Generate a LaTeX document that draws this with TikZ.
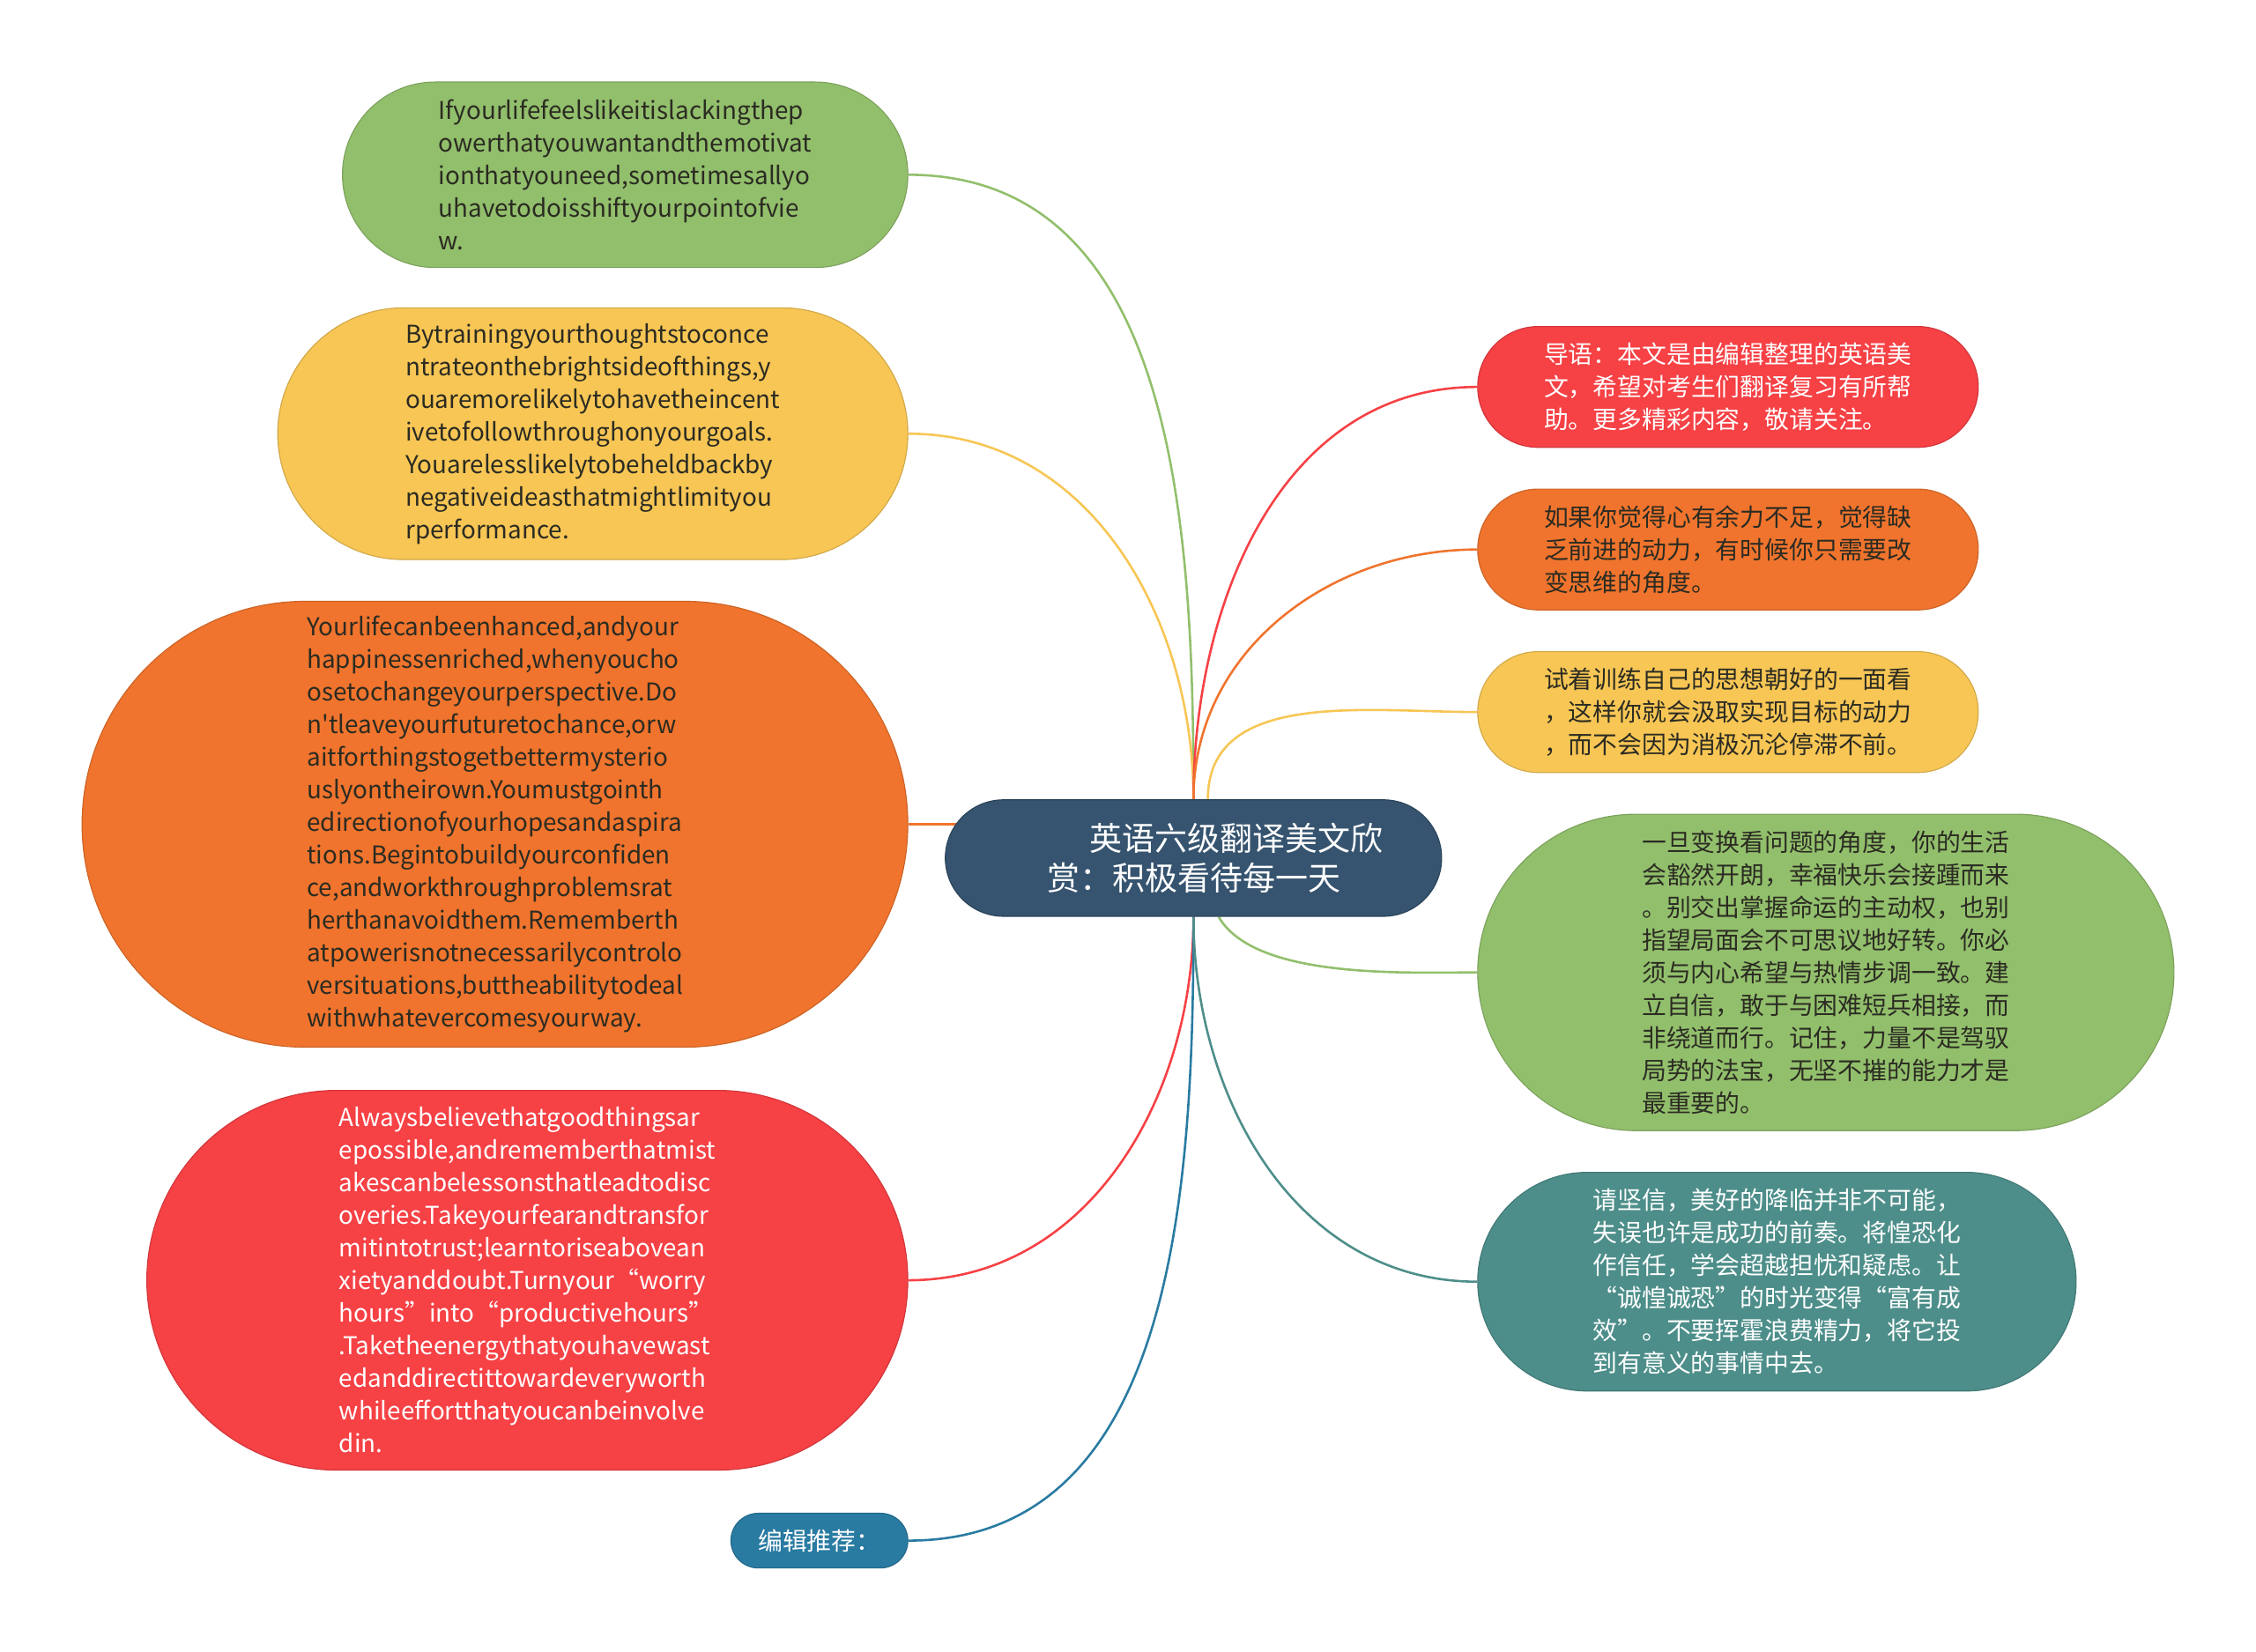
\documentclass[tikz,border=0pt]{standalone}
\usepackage{fontspec}
\setmainfont{Noto Sans CJK SC}
\newfontfamily\plainfont{Noto Sans CJK SC}
\usetikzlibrary{shapes.misc,backgrounds}

\definecolor{mapGreen}{HTML}{92BF6C}
\definecolor{mapYellow}{HTML}{F7C655}
\definecolor{mapOrange}{HTML}{F0742D}
\definecolor{mapRed}{HTML}{F64145}
\definecolor{mapTeal}{HTML}{4D8E8A}
\definecolor{mapBlue}{HTML}{297BA2}
\definecolor{mapNavy}{HTML}{36546F}
\definecolor{txtDark}{HTML}{2B2B22}

\begin{document}
\begin{tikzpicture}[
    x=0.02cm, y=-0.02cm,
    pill/.style={rounded rectangle, fill=#1, draw=#1!85!black, line width=0.4pt, inner sep=0pt, align=left, font=\fontsize{9.7}{12.9}\selectfont},
    title/.style={rounded rectangle, fill=mapNavy, draw=mapNavy!80!black, line width=0.4pt, inner sep=0pt, align=left, text=white, font=\fontsize{12.9}{15.8}\selectfont},
    link/.style={line width=0.9pt}
]
\useasboundingbox (0,0) rectangle (1568,1148);

% Central topic
\node[title, minimum width=6.9cm, minimum height=1.62cm] (root) at (829.5,596.5)
  {\hspace*{0.6cm}\hspace*{1.3em}英语六级翻译美文欣\\\hspace*{0.6cm}赏：积极看待每一天};

% Left branches - English text
\node[pill=mapGreen, text=txtDark, minimum width=7.86cm, minimum height=2.58cm] (engA) at (434.5,121.5)
  {Ifyourlifefeelslikeitislackingthep\\owerthatyouwantandthemotivat\\ionthatyouneed,sometimesallyo\\uhavetodoisshiftyourpointofvie\\w.};

\node[pill=mapYellow, text=txtDark, minimum width=8.76cm, minimum height=3.5cm] (engB) at (412,301.5)
  {Bytrainingyourthoughtstoconce\\ntrateonthebrightsideofthings,y\\ouaremorelikelytohavetheincent\\ivetofollowthroughonyourgoals.\\Youarelesslikelytobeheldbackby\\negativeideasthatmightlimityou\\rperformance.};

\node[pill=mapOrange, text=txtDark, minimum width=11.48cm, minimum height=6.2cm] (engC) at (344,573)
  {Yourlifecanbeenhanced,andyour\\happinessenriched,whenyoucho\\osetochangeyourperspective.Do\\n{\plainfont'}tleaveyourfuturetochance,orw\\aitforthingstogetbettermysterio\\uslyontheirown.Youmustgointh\\edirectionofyourhopesandaspira\\tions.Begintobuildyourconfiden\\ce,andworkthroughproblemsrat\\herthanavoidthem.Rememberth\\atpowerisnotnecessarilycontrolo\\versituations,buttheabilitytodeal\\withwhatevercomesyourway.};

\node[pill=mapRed, text=white, minimum width=10.58cm, minimum height=5.28cm] (engD) at (366.5,890)
  {Alwaysbelievethatgoodthingsar\\epossible,andrememberthatmist\\akescanbelessonsthatleadtodisc\\overies.Takeyourfearandtransfor\\mitintotrust;learntoriseabovean\\xietyanddoubt.Turnyour“worry\\hours”into“productivehours”\\.Taketheenergythatyouhavewast\\edanddirectittowardeveryworth\\whileeffortthatyoucanbeinvolve\\din.};

\node[pill=mapBlue, text=white, minimum width=2.46cm, minimum height=0.76cm] (recom) at (569.5,1071) {编辑推荐：};

% Right branches - Chinese text
\node[pill=mapRed, text=white, minimum width=6.96cm, minimum height=1.68cm] (zhA) at (1201,269)
  {导语：本文是由编辑整理的英语美\\文，希望对考生们翻译复习有所帮\\助。更多精彩内容，敬请关注。};

\node[pill=mapOrange, text=txtDark, minimum width=6.96cm, minimum height=1.68cm] (zhB) at (1201,382)
  {如果你觉得心有余力不足，觉得缺\\乏前进的动力，有时候你只需要改\\变思维的角度。};

\node[pill=mapYellow, text=txtDark, minimum width=6.96cm, minimum height=1.68cm] (zhC) at (1201,495)
  {试着训练自己的思想朝好的一面看\\，这样你就会汲取实现目标的动力\\，而不会因为消极沉沦停滞不前。};

\node[pill=mapGreen, text=txtDark, minimum width=9.68cm, minimum height=4.4cm] (zhD) at (1269,676)
  {一旦变换看问题的角度，你的生活\\会豁然开朗，幸福快乐会接踵而来\\。别交出掌握命运的主动权，也别\\指望局面会不可思议地好转。你必\\须与内心希望与热情步调一致。建\\立自信，敢于与困难短兵相接，而\\非绕道而行。记住，力量不是驾驭\\局势的法宝，无坚不摧的能力才是\\最重要的。};

\node[pill=mapTeal, text=white, minimum width=8.32cm, minimum height=3.04cm] (zhE) at (1235,891)
  {请坚信，美好的降临并非不可能，\\失误也许是成功的前奏。将惶恐化\\作信任，学会超越担忧和疑虑。让\\“诚惶诚恐”的时光变得“富有成\\效”。不要挥霍浪费精力，将它投\\到有意义的事情中去。};

% Connectors behind the nodes
\begin{scope}[on background layer]
\draw[link, mapGreen] (root.north) to[out=90, in=0] (engA.east);
\draw[link, mapYellow] (root.north) to[out=90, in=0] (engB.east);
\draw[link, mapOrange] (engC.east) -- (engC.east -| root.center);
\draw[link, mapRed] (root.south) to[out=-90, in=0] (engD.east);
\draw[link, mapBlue] (root.south) to[out=-90, in=0] (recom.east);
\draw[link, mapRed] (root.north) to[out=90, in=180] (zhA.west);
\draw[link, mapOrange] (root.north) to[out=90, in=180] (zhB.west);
\draw[link, mapYellow] ([xshift=0.2cm]root.north) to[out=90, in=180] (zhC.west);
\draw[link, mapGreen] ([xshift=0.35cm]root.south) to[out=-60, in=180, looseness=0.7] (zhD.west);
\draw[link, mapTeal] (root.south) to[out=-90, in=180] (zhE.west);
\end{scope}

\end{tikzpicture}
\end{document}
